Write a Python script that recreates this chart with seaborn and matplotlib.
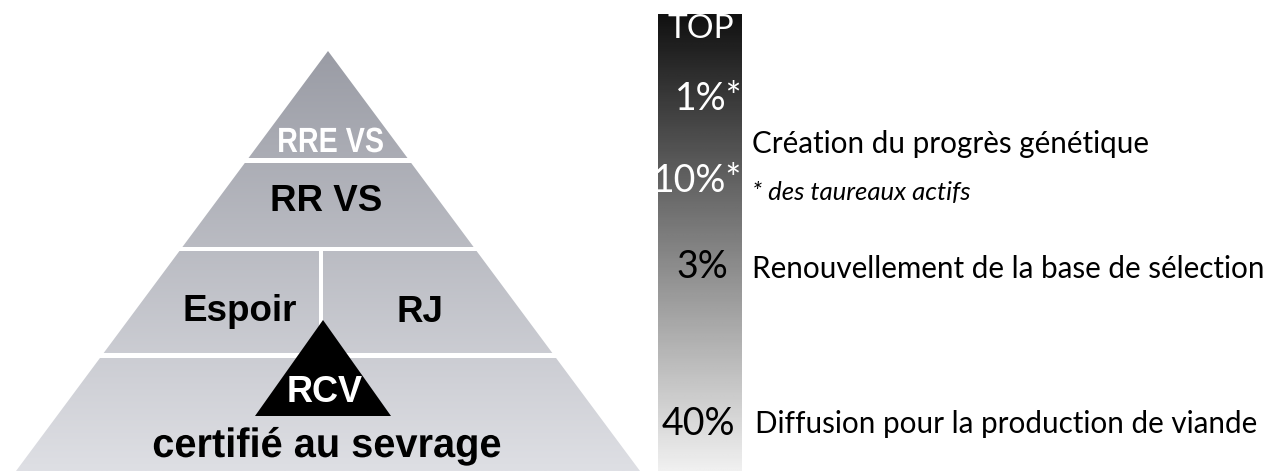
# Pyramide de sélection - schéma recréé avec seaborn / matplotlib

import numpy as np
import matplotlib
matplotlib.use('Agg')
import matplotlib.pyplot as plt
import seaborn as sns
from matplotlib.patches import Polygon, Rectangle, PathPatch
from matplotlib.textpath import TextPath
from matplotlib.font_manager import FontProperties
from matplotlib.transforms import Affine2D

# =============================================================================
# DONNÉES
# =============================================================================

tier_labels = ['RRE VS', 'RR VS', 'Espoir', 'RJ', 'certifié au sevrage']
badge_label = 'RCV'
bar_title = 'TOP'
bar_labels = ['1%*', '10%*', '3%', '40%']
descriptions = ['Création du progrès génétique',
                'Renouvellement de la base de sélection',
                'Diffusion pour la production de viande']
footnote = '* des taureaux actifs'

# =============================================================================
# MISE EN PAGE (pixels, origine en haut à gauche)
# =============================================================================

W, H = 1267, 471
apex = (328, 51)
base_y = 471
base_left, base_right = 16, 640
gaps = [(158, 163), (247, 251), (353, 358)]   # bandes blanches entre étages
divider = (319, 323, 251, 353)                # séparation Espoir / RJ
bar_box = (658, 742, 14, 471)

sns.set_theme(style='white')
humanist = 'Lato'

fig = plt.figure(figsize=(W / 100, H / 100), dpi=100)
ax = fig.add_axes([0, 0, 1, 1])
ax.set_xlim(0, W)
ax.set_ylim(H, 0)
ax.axis('off')

# --- pyramide : dégradé vertical gris découpé par le triangle ---
tri = Polygon([apex, (base_left, base_y), (base_right, base_y)], closed=True,
              facecolor='none', edgecolor='none')
ax.add_patch(tri)
top_rgb = np.array([154, 156, 165]) / 255
bot_rgb = np.array([222, 223, 228]) / 255
t = np.linspace(0, 1, 256)[:, None]
grad = (top_rgb * (1 - t) + bot_rgb * t)[:, None, :]
im = ax.imshow(grad, extent=[base_left, base_right, base_y, apex[1]],
               aspect='auto', interpolation='bilinear', zorder=1)
im.set_clip_path(tri)

for y0, y1 in gaps:
    ax.add_patch(Rectangle((0, y0), base_right + 10, y1 - y0,
                           facecolor='white', edgecolor='none', zorder=2))
x0, x1, y0, y1 = divider
ax.add_patch(Rectangle((x0, y0), x1 - x0, y1 - y0,
                       facecolor='white', edgecolor='none', zorder=2))

# triangle noir RCV
ax.add_patch(Polygon([(323, 320), (255, 416), (391, 416)], closed=True,
                     facecolor='black', edgecolor='none', zorder=3))


def condensed_text(x, y, s, size, squeeze, color):
    # texte étroit : chemin de glyphes écrasé horizontalement, centré en x
    path = TextPath((0, 0), s, size=size,
                    prop=FontProperties(family='Liberation Sans', weight='bold'))
    bb = path.get_extents()
    tr = (Affine2D().translate(-(bb.x0 + bb.x1) / 2, 0)
          .scale(squeeze, -1).translate(x, y))
    ax.add_patch(PathPatch(tr.transform_path(path), facecolor=color,
                           edgecolor='none', zorder=4))


bold = dict(fontfamily='Liberation Sans', fontweight='bold', zorder=4)
condensed_text(331, 152, tier_labels[0], 35, 0.82, 'white')
ax.text(326, 211, tier_labels[1], ha='center', va='baseline', color='black',
        fontsize=26.5, **bold)
ax.text(240, 321, tier_labels[2], ha='center', va='baseline', color='black',
        fontsize=26.5, **bold)
ax.text(420, 322, tier_labels[3], ha='center', va='baseline', color='black',
        fontsize=26.5, **bold)
ax.text(325, 402, badge_label, ha='center', va='baseline', color='white',
        fontsize=26, **bold)
condensed_text(327, 457, tier_labels[4], 41, 0.97, 'black')

# --- barre en dégradé noir -> blanc ---
bx0, bx1, by0, by1 = bar_box
bar_grad = np.linspace(17, 240, 256)[:, None] / 255
ax.imshow(bar_grad, extent=[bx0, bx1, by1, by0], cmap='gray', vmin=0, vmax=1,
          aspect='auto', interpolation='bilinear', zorder=1)

ax.text(701, 38, bar_title, ha='center', va='baseline', color='white',
        fontsize=24, fontfamily=humanist, zorder=4)
bar_pos = [(742, 110, 'white'), (742, 192, 'white'),
           (728, 278, 'black'), (735, 435, 'black')]
for lab, (x, y, c) in zip(bar_labels, bar_pos):
    ax.text(x, y, lab, ha='right', va='baseline', color=c,
            fontsize=27, fontfamily=humanist, zorder=4)

# --- textes explicatifs ---
desc_pos = [(752, 153), (752, 278), (755, 433)]
for lab, (x, y) in zip(descriptions, desc_pos):
    ax.text(x, y, lab, ha='left', va='baseline', color='black',
            fontsize=21.3, fontfamily=humanist, zorder=4)
ax.text(752, 200, footnote, ha='left', va='baseline', color='black',
        fontsize=18.5, fontstyle='italic', fontfamily=humanist, zorder=4)

fig.savefig('out.png', dpi=100, facecolor='white')
